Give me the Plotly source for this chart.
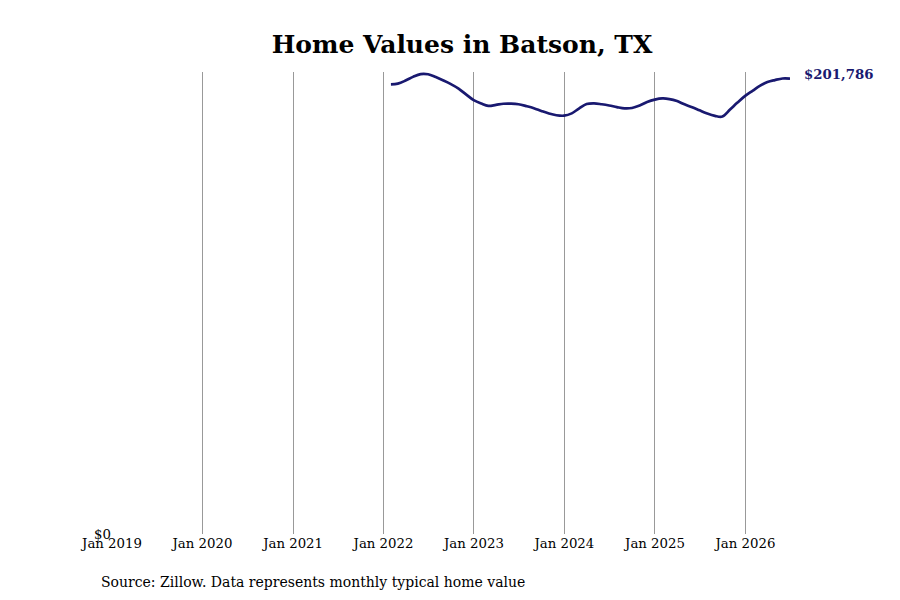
import plotly.graph_objects as go
import pandas as pd

dates = pd.date_range("2022-01-31", periods=54, freq="ME").strftime("%Y-%m-%d").tolist()
values = [
    199261, 199572, 200900, 202540, 203780, 203691, 202451, 200945, 199350, 197357, 194787, 192262,
    190712, 189693, 190136, 190623, 190667, 190401, 189604, 188674, 187433, 186282, 185528, 185351,
    186370, 188497, 190490, 190800, 190401, 189870, 189161, 188585, 188762, 189826, 191376, 192439,
    192971, 192705, 191819, 190357, 189072, 187699, 186282, 185263, 184953, 188054, 191155, 194123,
    196471, 198553, 200236, 201122, 201831, 201786,
]
tick_vals = ["2019-01-01", "2020-01-01", "2021-01-01", "2022-01-01", "2023-01-01",
             "2024-01-01", "2025-01-01", "2026-01-01"]
tick_text = ["Jan 2019", "Jan 2020", "Jan 2021", "Jan 2022", "Jan 2023",
             "Jan 2024", "Jan 2025", "Jan 2026"]
title_text = "Home Values in Batson, TX"
source_text = "Source: Zillow. Data represents monthly typical home value"
last_label = "$201,786"

LINE = "#191970"
SERIF = "DejaVu Serif"

fig = go.Figure()
fig.add_trace(go.Scatter(x=dates, y=values, mode="lines",
                         line=dict(color=LINE, width=2.7, shape="spline"),
                         hoverinfo="skip", showlegend=False))

fig.add_annotation(x=dates[-1], y=values[-1], text="<b>" + last_label + "</b>",
                   xref="x", yref="y", showarrow=False, xanchor="left", yshift=4, xshift=12,
                   font=dict(family=SERIF, size=13.3, color=LINE))
fig.add_annotation(x=-0.0192, y=-0.104, xref="paper", yref="paper", text=source_text,
                   showarrow=False, xanchor="left", yanchor="middle",
                   font=dict(family=SERIF, size=14, color="black"))

fig.update_layout(
    width=892, height=592,
    margin=dict(l=104, r=110, t=64, b=66, pad=0),
    paper_bgcolor="white", plot_bgcolor="white",
    title=dict(text="<b>" + title_text + "</b>", x=0.509, xanchor="center", y=0.939, yanchor="middle",
               font=dict(family=SERIF, size=25, color="black")),
    xaxis=dict(range=["2019-01-01", dates[-1]], tickvals=tick_vals, ticktext=tick_text,
               showgrid=True, gridcolor="#999999", gridwidth=1, showline=False, zeroline=False,
               ticks="", tickfont=dict(family=SERIF, size=13.3, color="black")),
    yaxis=dict(range=[0, 204700], tickvals=[0], ticktext=["$0"], showgrid=False,
               zeroline=False, showline=False, ticks="",
               tickfont=dict(family=SERIF, size=13.3, color="black")),
)
fig.write_html("out.html")
